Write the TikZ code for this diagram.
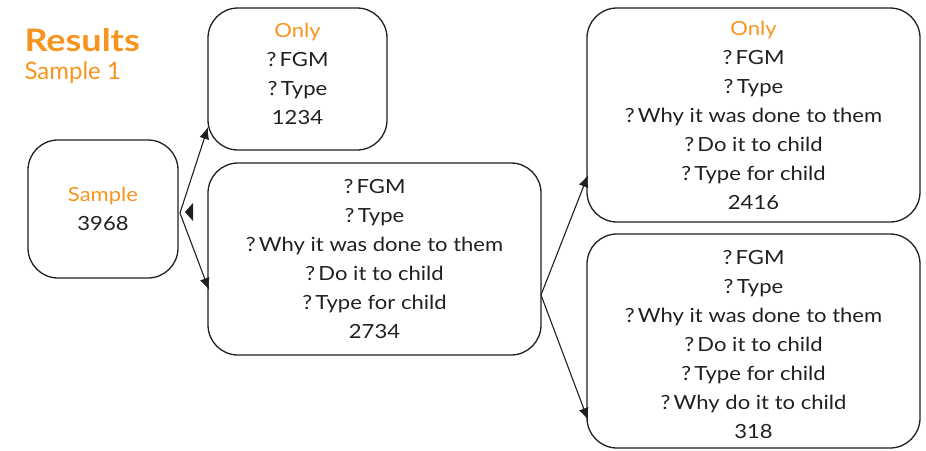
\documentclass[tikz,border=0pt]{standalone}
\usepackage{fontspec}
\setmainfont[FakeStretch=1.13]{Lato}
\newfontfamily\titlefont[FakeStretch=1.16]{Lato}
\newfontfamily\subfont{Lato}
\usetikzlibrary{arrows.meta,calc}
\definecolor{orng}{HTML}{F7941D}
\definecolor{ink}{HTML}{231F20}
\tikzset{
  box/.style={draw=ink, line width=1.3pt, rounded corners=30pt, align=center, text=ink,
    font=\fontsize{19.5}{29}\selectfont, inner sep=0pt},
  txt/.style={align=center, text=ink, font=\fontsize{19.5}{29}\selectfont, inner sep=0pt},
  conn/.style={draw=ink, line width=1.1pt, -{Latex[length=12pt,width=10pt]}},
}
\begin{document}
\begin{tikzpicture}[x=1pt,y=-1pt]
\useasboundingbox (0,0) rectangle (926,450);
\node[anchor=west, text=orng, font=\titlefont\fontsize{31}{34}\selectfont\bfseries] (title) at (21,40) {Results};
\node[anchor=west, text=orng, font=\subfont\fontsize{24}{28}\selectfont] (sub) at (21,73) {Sample 1};

\node[box, minimum width=150pt, minimum height=138pt] (s) at (103,209)
  {\textcolor{orng}{Sample}\\3968};
\node[box, minimum width=179pt, minimum height=142pt] (t) at (297.5,79) {};
\node[txt] (tt) at ($(t.center)+(0,-5)$)
  {\textcolor{orng}{Only}\\?\,FGM\\?\,Type\\1234};
\node[box, minimum width=333pt, minimum height=192pt] (m) at (374.5,259)
  {?\,FGM\\?\,Type\\?\,Why it was done to them\\?\,Do it to child\\?\,Type for child\\2734};
\node[box, minimum width=333pt, minimum height=214pt] (rt) at (753.5,115)
  {\textcolor{orng}{Only}\\?\,FGM\\?\,Type\\?\,Why it was done to them\\?\,Do it to child\\?\,Type for child\\2416};
\node[box, minimum width=333pt, minimum height=214pt] (rb) at (753.5,341) {};
\node[txt] (rbt) at ($(rb.center)+(0,4)$)
  {?\,FGM\\?\,Type\\?\,Why it was done to them\\?\,Do it to child\\?\,Type for child\\?\,Why do it to child\\318};

\coordinate (sp) at (180,213);
\coordinate (tp) at (208,127);
\coordinate (mp) at (209,290);
\coordinate (mq) at (541,295);
\coordinate (rtp) at (588,175);
\coordinate (rbp) at (588,420);
\draw[conn] (sp) -- (tp);
\draw[conn] (sp) -- (mp);
\draw[conn] (mq) -- (rtp);
\draw[conn] (mq) -- (rbp);
\fill[ink] (185,212) -- (193,203) -- (193,221) -- cycle;
\end{tikzpicture}
\end{document}
